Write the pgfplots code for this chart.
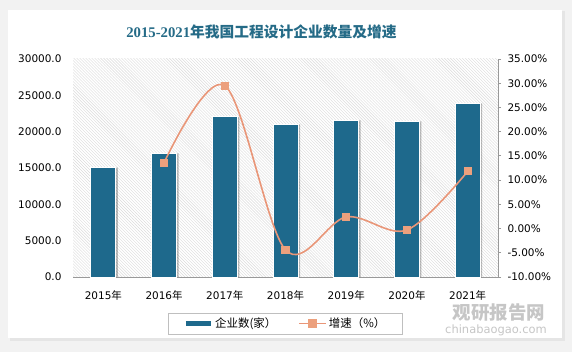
\documentclass[border=0pt]{standalone}
\usepackage{pgfplots}
\pgfplotsset{compat=1.18}
\usetikzlibrary{patterns}
\usepackage{fontspec}
\setmainfont{DejaVu Sans}
\newfontfamily\cjk{Noto Sans CJK SC}
\newfontfamily\serifd{Liberation Serif}
\definecolor{barcol}{RGB}{30,105,140}
\definecolor{linecol}{RGB}{233,150,120}
\definecolor{markcol}{RGB}{236,160,125}
\definecolor{titlecol}{RGB}{37,107,135}
\newcommand{\yr}[1]{#1{\cjk 年}}
\begin{document}
\begin{tikzpicture}[x=1bp,y=1bp]
\fill[gray!10] (0,0) rectangle (572,352);
\fill[black!10] (10,11) rectangle (565,341);
\fill[white] (8,14) rectangle (562,342);
\useasboundingbox (0,0) rectangle (572,352);
\node[text=titlecol, font=\fontsize{14.8}{16}\selectfont\bfseries] at (261.5,320) {{\serifd\bfseries 2015-2021}{\cjk\bfseries 年我国工程设计企业数量及增速}};
\node[text=gray!45, font=\cjk\bfseries\fontsize{18.5}{19}\selectfont] at (499,39.5) {观研报告网};
\node[text=gray!45, font=\fontsize{11.5}{12}\selectfont] at (496,22) {chinabaogao.com};
\begin{axis}[
  at={(73bp,75bp)}, anchor=south west,
  width=425bp, height=218bp, scale only axis,
  xmin=-0.5, xmax=6.5, ymin=0, ymax=30000,
  scaled y ticks=false,
  axis x line*=bottom, axis y line*=left,
  x axis line style={gray!80, line width=0.8bp, -},
  y axis line style={draw=none},
  tick style={draw=none},
  xtick={0,...,6},
  xticklabels={\yr{2015},\yr{2016},\yr{2017},\yr{2018},\yr{2019},\yr{2020},\yr{2021}},
  ytick={0,5000,10000,15000,20000,25000,30000},
  yticklabels={0.0,5000.0,10000.0,15000.0,20000.0,25000.0,30000.0},
  yticklabel style={font=\fontsize{10.5}{12}\selectfont, xshift=-8bp},
  xticklabel style={font=\fontsize{10.5}{12}\selectfont, yshift=-6bp},
  axis background/.style={pattern=north west lines, pattern color=gray!28},
  ybar, bar width=25bp,
]
\addplot[ybar, fill=black, draw=none, opacity=0.25, bar shift=2bp, forget plot] coordinates {(0,15050) (1,17020) (2,22050) (3,21000) (4,21550) (5,21410) (6,23890)};
\addplot[ybar, fill=barcol, draw=white, line width=0.8bp] coordinates {(0,15050) (1,17020) (2,22050) (3,21000) (4,21550) (5,21410) (6,23890)};
\end{axis}
\begin{axis}[
  at={(73bp,75bp)}, anchor=south west,
  width=425bp, height=218bp, scale only axis,
  xmin=-0.5, xmax=6.5, ymin=-10, ymax=35,
  axis x line=none, axis y line*=right,
  y axis line style={gray!80, line width=0.8bp, -},
  ytick style={gray!80, line width=0.8bp},
  tick align=outside, major tick length=3bp,
  ytick={-10,-5,0,5,10,15,20,25,30,35},
  yticklabels={-10.00\%,-5.00\%,0.00\%,5.00\%,10.00\%,15.00\%,20.00\%,25.00\%,30.00\%,35.00\%},
  yticklabel style={font=\fontsize{10.5}{12}\selectfont, xshift=3bp},
  legend columns=2,
  legend style={at={(0.5,-0.213)}, anchor=center, draw=gray!50, inner xsep=15bp, inner ysep=3bp,
    font=\cjk\fontsize{11.5}{13}\selectfont, /tikz/every even column/.append style={column sep=20bp}},
]
\addlegendimage{legend image code/.code={\draw[barcol, line width=4.5bp] (0bp,0bp) -- (25bp,0bp);}}
\addlegendentry{企业数(家）}
\addplot[linecol, line width=1.6bp, smooth, tension=0.55, mark=square*, mark size=3.3bp,
  mark options={fill=markcol, draw=markcol},
  legend image code/.code={\draw[linecol, line width=1.6bp] (0bp,0bp) -- (27bp,0bp); \fill[markcol] (10bp,-3.3bp) rectangle (16.6bp,3.3bp);}]
  coordinates {(1,13.6) (2,29.5) (3,-4.4) (4,2.4) (5,-0.3) (6,11.8)};
\addlegendentry{增速（\%）}
\end{axis}
\end{tikzpicture}
\end{document}
